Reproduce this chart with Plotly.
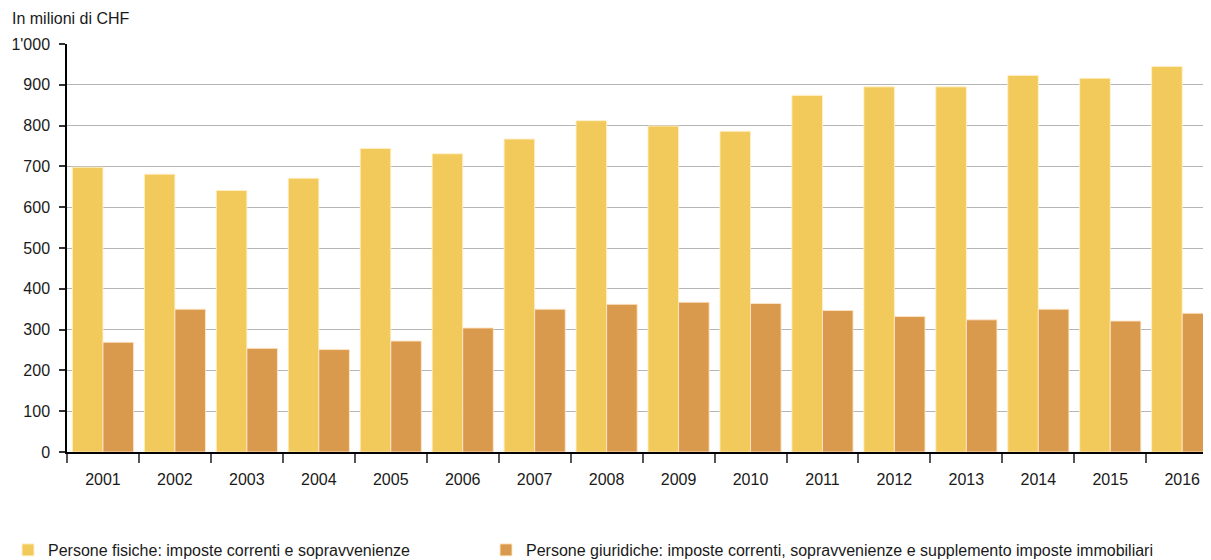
import plotly.graph_objects as go

years = [str(y) for y in range(2001, 2017)]
persone_fisiche = [698, 681, 641, 671, 744, 731, 767, 812, 799, 786, 874, 895, 895, 923, 916, 945]
persone_giuridiche = [269, 350, 254, 251, 272, 304, 350, 362, 367, 364, 347, 332, 324, 350, 321, 340]
ytick_vals = [0, 100, 200, 300, 400, 500, 600, 700, 800, 900, 1000]
ytick_text = ["0", "100", "200", "300", "400", "500", "600", "700", "800", "900", "1'000"]

FONT = "Liberation Sans, Arial, sans-serif"
FS = 16

# The page body has an 8px margin, so the figure is sized to fill the rest of the window.
W, H = 1203, 552

fig = go.Figure()
fig.add_trace(go.Bar(
    x=years, y=persone_fisiche,
    name="Persone fisiche: imposte correnti e sopravvenienze",
    marker=dict(color="#F2CA5B", line=dict(color="rgba(255,240,200,0.9)", width=1)),
    legend="legend",
))
fig.add_trace(go.Bar(
    x=years, y=persone_giuridiche,
    name="Persone giuridiche: imposte correnti, sopravvenienze e supplemento imposte immobiliari",
    marker=dict(color="#DA9A4D", line=dict(color="rgba(255,230,200,0.9)", width=1)),
    legend="legend2",
))

legend_common = dict(
    orientation="h", xref="container", yref="container",
    y=27 / H, xanchor="left", yanchor="top",
    font=dict(family=FONT, size=FS, color="#1a1a1a"),
    bgcolor="rgba(0,0,0,0)",
)

fig.update_layout(
    width=W, height=H,
    margin=dict(l=59, r=0, t=36, b=108, autoexpand=False),
    paper_bgcolor="white", plot_bgcolor="white",
    font=dict(family=FONT, size=FS, color="#1a1a1a"),
    barmode="group", bargap=0.15, bargroupgap=0,
    showlegend=True,
    legend=dict(x=-1 / W, **legend_common),
    legend2=dict(x=478 / W, **legend_common),
    annotations=[dict(
        text="In milioni di CHF", xref="paper", yref="paper",
        x=-57 / 1144, y=1.0, xanchor="left", yanchor="bottom", yshift=15,
        showarrow=False, font=dict(family=FONT, size=FS, color="#1a1a1a"),
    )],
)

fig.update_xaxes(
    type="category", range=[-0.5, 15.4], automargin=False,
    showline=True, linecolor="#000000", linewidth=1.5,
    ticks="outside", tickson="boundaries", ticklen=9, tickcolor="#555555", tickwidth=1.5,
    ticklabelstandoff=12,
    showgrid=False, tickfont=dict(family=FONT, size=FS),
)
fig.update_yaxes(
    range=[0, 1000], tickvals=ytick_vals, ticktext=ytick_text, automargin=False,
    showline=True, linecolor="#000000", linewidth=1.5,
    ticks="outside", ticklen=6, tickcolor="#333333", tickwidth=1.5,
    ticklabelstandoff=6,
    showgrid=True, gridcolor="#b5b5b5", gridwidth=1,
    zeroline=False, tickfont=dict(family=FONT, size=FS),
)

fig.write_html("out.html")
